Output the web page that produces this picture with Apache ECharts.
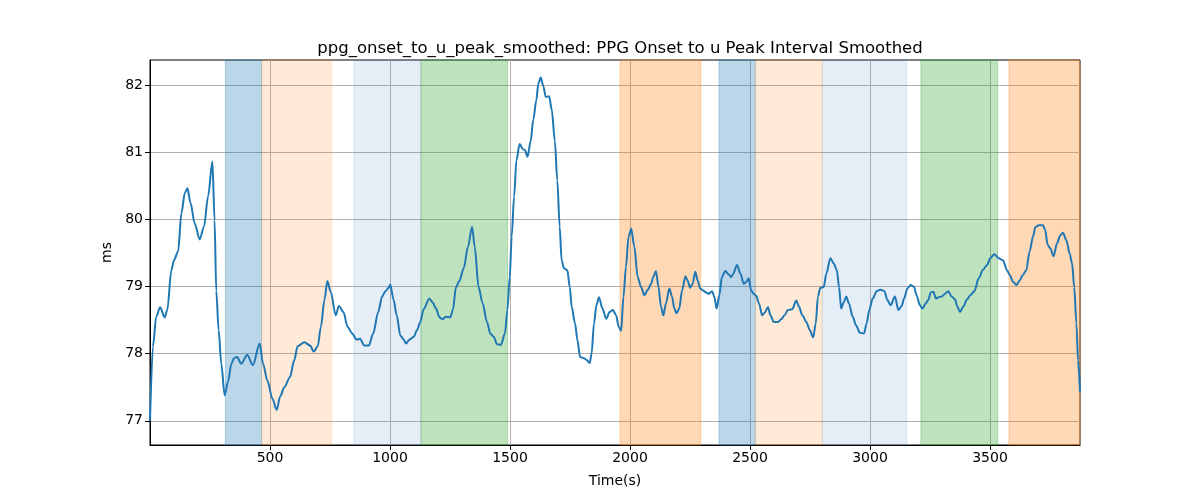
<!DOCTYPE html>
<html>
<head>
<meta charset="utf-8">
<script src="https://cdn.jsdelivr.net/npm/echarts@6/dist/echarts.min.js"></script>
<style>
  html, body { margin: 0; padding: 0; background: #fff; }
  #chart { width: 1200px; height: 500px; }
</style>
</head>
<body>
<div id="chart"></div>
<script>
// time axis (s) and smoothed interval (ms)
const times = [
  0, 12, 26, 42, 61, 72, 89, 100, 117, 131, 145, 156, 169, 186, 207, 225, 242, 260, 269, 276,
  286, 297, 311, 325, 339, 350, 363, 380, 405, 429, 457, 471, 489, 510, 528, 542, 560, 583, 601, 615,
  643, 667, 682, 699, 712, 727, 739, 753, 774, 787, 806, 823, 843, 860, 875, 893, 912, 930, 951, 967,
  981, 995, 1001, 1015, 1028, 1043, 1057, 1067, 1081, 1099, 1113, 1126, 1140, 1164, 1178, 1192, 1206, 1219, 1233, 1251,
  1262, 1275, 1289, 1307, 1325, 1342, 1353, 1369, 1386, 1404, 1418, 1432, 1446, 1462, 1479, 1489, 1499, 1507, 1517, 1527,
  1540, 1554, 1562, 1573, 1586, 1597, 1610, 1618, 1628, 1639, 1649, 1663, 1674, 1687, 1697, 1707, 1715, 1725, 1739, 1749,
  1757, 1771, 1781, 1792, 1808, 1818, 1832, 1840, 1850, 1860, 1871, 1885, 1901, 1915, 1929, 1942, 1953, 1963, 1973, 1983,
  1994, 2005, 2018, 2032, 2046, 2060, 2074, 2088, 2097, 2108, 2119, 2129, 2139, 2150, 2164, 2175, 2185, 2194, 2205, 2217,
  2231, 2240, 2250, 2261, 2272, 2282, 2292, 2305, 2317, 2328, 2342, 2351, 2361, 2372, 2383, 2397, 2411, 2421, 2429, 2446,
  2460, 2474, 2485, 2494, 2505, 2515, 2526, 2537, 2551, 2561, 2575, 2585, 2599, 2617, 2630, 2644, 2658, 2676, 2693, 2704,
  2718, 2735, 2749, 2763, 2774, 2783, 2793, 2807, 2818, 2835, 2849, 2862, 2871, 2880, 2890, 2901, 2912, 2928, 2942, 2958,
  2975, 2986, 2997, 3011, 3028, 3044, 3060, 3072, 3086, 3104, 3118, 3132, 3142, 3156, 3169, 3183, 3194, 3208, 3219, 3233,
  3243, 3253, 3264, 3275, 3285, 3299, 3313, 3326, 3340, 3354, 3364, 3375, 3389, 3403, 3418, 3435, 3453, 3471, 3488, 3501,
  3518, 3536, 3554, 3571, 3582, 3596, 3610, 3624, 3637, 3651, 3665, 3679, 3689, 3703, 3721, 3730, 3740, 3751, 3765, 3779,
  3793, 3804, 3818, 3832, 3842, 3851, 3860, 3867, 3875
];
const values = [
  77.0, 78.1, 78.55, 78.69, 78.54, 78.65, 79.24, 79.39, 79.52, 80.09, 80.39, 80.46, 80.24, 79.94, 79.70, 79.89, 80.34, 80.86, 79.99, 78.94,
  78.35, 77.85, 77.38, 77.58, 77.85, 77.93, 77.95, 77.85, 77.98, 77.83, 78.15, 77.85, 77.60, 77.33, 77.16, 77.36, 77.50, 77.65, 77.90, 78.11,
  78.17, 78.12, 78.03, 78.11, 78.40, 78.80, 79.08, 78.92, 78.57, 78.71, 78.62, 78.40, 78.30, 78.21, 78.22, 78.12, 78.12, 78.30, 78.62, 78.85,
  78.93, 78.98, 79.03, 78.80, 78.57, 78.27, 78.21, 78.15, 78.21, 78.25, 78.35, 78.47, 78.66, 78.82, 78.76, 78.67, 78.54, 78.51, 78.55, 78.54,
  78.65, 78.99, 79.08, 79.27, 79.59, 79.89, 79.59, 78.99, 78.75, 78.47, 78.30, 78.25, 78.14, 78.13, 78.30, 78.65, 79.14, 79.74, 80.34, 80.88,
  81.12, 81.04, 81.03, 80.93, 81.16, 81.48, 81.78, 82.02, 82.11, 81.98, 81.82, 81.83, 81.63, 81.16, 80.58, 79.89, 79.39, 79.27, 79.24, 78.99,
  78.70, 78.45, 78.20, 77.95, 77.93, 77.91, 77.86, 78.00, 78.45, 78.72, 78.84, 78.67, 78.52, 78.62, 78.65, 78.57, 78.40, 78.34, 78.85, 79.29,
  79.74, 79.86, 79.59, 79.14, 78.99, 78.87, 78.95, 79.04, 79.14, 79.23, 78.99, 78.70, 78.57, 78.75, 78.97, 78.85, 78.67, 78.60, 78.67, 78.94,
  79.15, 79.09, 78.98, 79.04, 79.22, 79.09, 78.97, 78.94, 78.91, 78.89, 78.93, 78.85, 78.67, 78.87, 79.14, 79.23, 79.18, 79.14, 79.18, 79.32,
  79.19, 79.04, 79.07, 79.12, 78.94, 78.89, 78.86, 78.75, 78.57, 78.61, 78.69, 78.57, 78.47, 78.47, 78.51, 78.57, 78.65, 78.66, 78.79, 78.70,
  78.57, 78.47, 78.35, 78.24, 78.45, 78.85, 78.98, 78.99, 79.19, 79.42, 79.34, 79.24, 78.99, 78.67, 78.76, 78.85, 78.75, 78.55, 78.42, 78.31,
  78.30, 78.45, 78.65, 78.82, 78.93, 78.95, 78.93, 78.80, 78.72, 78.85, 78.65, 78.71, 78.82, 78.97, 79.02, 79.00, 78.87, 78.72, 78.67, 78.75,
  78.80, 78.91, 78.92, 78.82, 78.84, 78.85, 78.89, 78.93, 78.85, 78.81, 78.70, 78.62, 78.70, 78.80, 78.87, 78.93, 79.12, 79.25, 79.32, 79.42,
  79.48, 79.42, 79.39, 79.24, 79.17, 79.07, 79.02, 79.09, 79.17, 79.24, 79.52, 79.74, 79.88, 79.91, 79.91, 79.84, 79.62, 79.57, 79.45, 79.64,
  79.76, 79.80, 79.69, 79.49, 79.34, 78.99, 78.45, 77.90, 77.43
];

// shaded segments: [start, end, colour]
const bandStarts = [314, 465, 850, 1129, 1958, 2371, 2522, 2801, 3212, 3579];
const bandEnds   = [465, 757, 1129, 1490, 2295, 2522, 2801, 3153, 3532, 3875];
const bandColors = [
  'rgba(31,119,180,0.3)', 'rgba(255,127,14,0.16)', 'rgba(70,130,200,0.14)', 'rgba(44,160,44,0.3)',
  'rgba(255,127,14,0.3)', 'rgba(31,119,180,0.3)', 'rgba(255,127,14,0.16)', 'rgba(70,130,200,0.14)',
  'rgba(44,160,44,0.3)', 'rgba(255,127,14,0.3)'
];

const xTicks = [500, 1000, 1500, 2000, 2500, 3000, 3500];
const yTicks = [77, 78, 79, 80, 81, 82];

const font = 'DejaVu Sans';
const chart = echarts.init(document.getElementById('chart'));

chart.setOption({
  animation: false,
  title: {
    text: 'ppg_onset_to_u_peak_smoothed: PPG Onset to u Peak Interval Smoothed',
    left: 615,
    textAlign: 'center',
    top: 35,
    textStyle: { fontFamily: font, fontSize: 16.5, fontWeight: 'normal', color: '#000' }
  },
  grid: {
    left: 150, right: 120, top: 60, bottom: 55,
    show: true, borderColor: '#000', borderWidth: 1, backgroundColor: 'transparent'
  },
  xAxis: {
    type: 'value',
    min: 0,
    max: 3875,
    name: 'Time(s)',
    nameLocation: 'middle',
    nameGap: 29,
    nameTextStyle: { fontFamily: font, fontSize: 14, color: '#000' },
    axisLine: { show: true, onZero: false, lineStyle: { color: '#000', width: 1 } },
    axisTick: { show: true, length: 5, customValues: xTicks, lineStyle: { color: '#000' } },
    axisLabel: {
      customValues: xTicks, fontFamily: font, fontSize: 14, color: '#000', margin: 6,
      formatter: (v) => String(v)
    },
    splitLine: { show: true, lineStyle: { color: '#b0b0b0', width: 1 } }
  },
  yAxis: {
    type: 'value',
    min: 76.64,
    max: 82.37,
    name: 'ms',
    nameLocation: 'middle',
    nameGap: 34,
    nameTextStyle: { fontFamily: font, fontSize: 14, color: '#000' },
    axisLine: { show: true, lineStyle: { color: '#000', width: 1 } },
    axisTick: { show: true, length: 5, customValues: yTicks, lineStyle: { color: '#000' } },
    axisLabel: {
      customValues: yTicks, fontFamily: font, fontSize: 14, color: '#000', margin: 7,
      formatter: (v) => String(v)
    },
    splitLine: { show: true, lineStyle: { color: '#b0b0b0', width: 1 } }
  },
  series: [
    {
      type: 'line',
      data: [],
      silent: true,
      z: 1,
      markArea: {
        silent: true,
        data: bandStarts.map((s, i) => [
          { xAxis: s, itemStyle: { color: bandColors[i], borderColor: bandColors[i], borderWidth: 1 } },
          { xAxis: bandEnds[i] }
        ])
      }
    },
    {
      type: 'line',
      z: 3,
      data: times.map((t, i) => [t, values[i]]),
      showSymbol: false,
      smooth: 0.3,
      smoothMonotone: 'x',
      lineStyle: { color: '#1f77b4', width: 2 },
      itemStyle: { color: '#1f77b4' }
    }
  ]
});
</script>
</body>
</html>
